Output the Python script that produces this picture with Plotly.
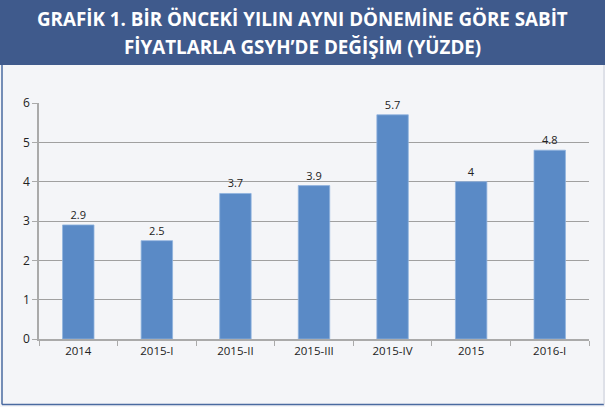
import plotly.graph_objects as go

categories = ["2014", "2015-I", "2015-II", "2015-III", "2015-IV", "2015", "2016-I"]
values = [2.9, 2.5, 3.7, 3.9, 5.7, 4, 4.8]
labels = ["2.9", "2.5", "3.7", "3.9", "5.7", "4", "4.8"]
title_lines = ["GRAFİK 1. BİR ÖNCEKİ YILIN AYNI DÖNEMİNE GÖRE SABİT",
               "FİYATLARLA GSYH’DE DEĞİŞİM (YÜZDE)"]

W, H = 605, 407
L, R, T, B = 39, 16, 103, 68
pw, ph = W - L - R, H - T - B

def px(x):
    return (x - L) / pw

def py(y):
    return (H - B - y) / ph

bg = "#f4f5f8"
fig = go.Figure(go.Bar(
    x=categories, y=values, text=labels, textposition="outside",
    textfont=dict(size=11, color="#222222", family="Open Sans"),
    marker=dict(color="#5a8ac6", line=dict(color="#8fb3de", width=0.8)),
    cliponaxis=False, hoverinfo="skip",
))

fig.update_layout(
    width=W, height=H,
    margin=dict(l=L, r=R, t=T, b=B, autoexpand=False),
    paper_bgcolor=bg, plot_bgcolor=bg,
    bargap=0.6, showlegend=False,
    font=dict(family="Open Sans", color="#222222", size=11),
    xaxis=dict(showline=True, linecolor="#aaaaaa", linewidth=1.5,
               ticks="outside", tickson="boundaries", ticklen=5,
               tickcolor="#aaaaaa", showgrid=False, automargin=False,
               tickfont=dict(size=11.5, color="#222222")),
    yaxis=dict(range=[0, 6], dtick=1, showline=True, linecolor="#aaaaaa",
               linewidth=1.5, ticks="outside", ticklen=5, tickcolor="#aaaaaa",
               showgrid=True, gridcolor="#a0a0a0", gridwidth=1.2,
               zeroline=False, automargin=False,
               tickfont=dict(size=12, color="#222222")),
)

shapes = [
    dict(type="rect", xref="paper", yref="paper",
         x0=px(0), x1=px(605), y0=py(65), y1=py(0),
         fillcolor="#3f5a8c", line=dict(width=0), layer="below"),
    dict(type="line", xref="paper", yref="paper",
         x0=px(2), x1=px(2), y0=py(65), y1=py(404.5),
         line=dict(color="#4a6aa0", width=1.5)),
    dict(type="line", xref="paper", yref="paper",
         x0=px(2), x1=px(604), y0=py(404.5), y1=py(404.5),
         line=dict(color="#4a6aa0", width=1.5)),
    dict(type="line", xref="paper", yref="paper",
         x0=px(604), x1=px(604), y0=py(65), y1=py(404.5),
         line=dict(color="#c8ccd8", width=1)),
]
fig.update_layout(shapes=shapes)

fig.add_annotation(xref="paper", yref="paper", x=px(302), y=py(19),
                   text="<b>" + title_lines[0] + "</b>", showarrow=False,
                   font=dict(family="Open Sans", size=18.8, color="white"),
                   xanchor="center", yanchor="middle")
fig.add_annotation(xref="paper", yref="paper", x=px(302), y=py(47),
                   text="<b>" + title_lines[1] + "</b>", showarrow=False,
                   font=dict(family="Open Sans", size=18.8, color="white"),
                   xanchor="center", yanchor="middle")

fig.write_html("out.html", config={"displayModeBar": False},
               post_script="document.body.style.margin='0';document.body.style.overflow='hidden';")
